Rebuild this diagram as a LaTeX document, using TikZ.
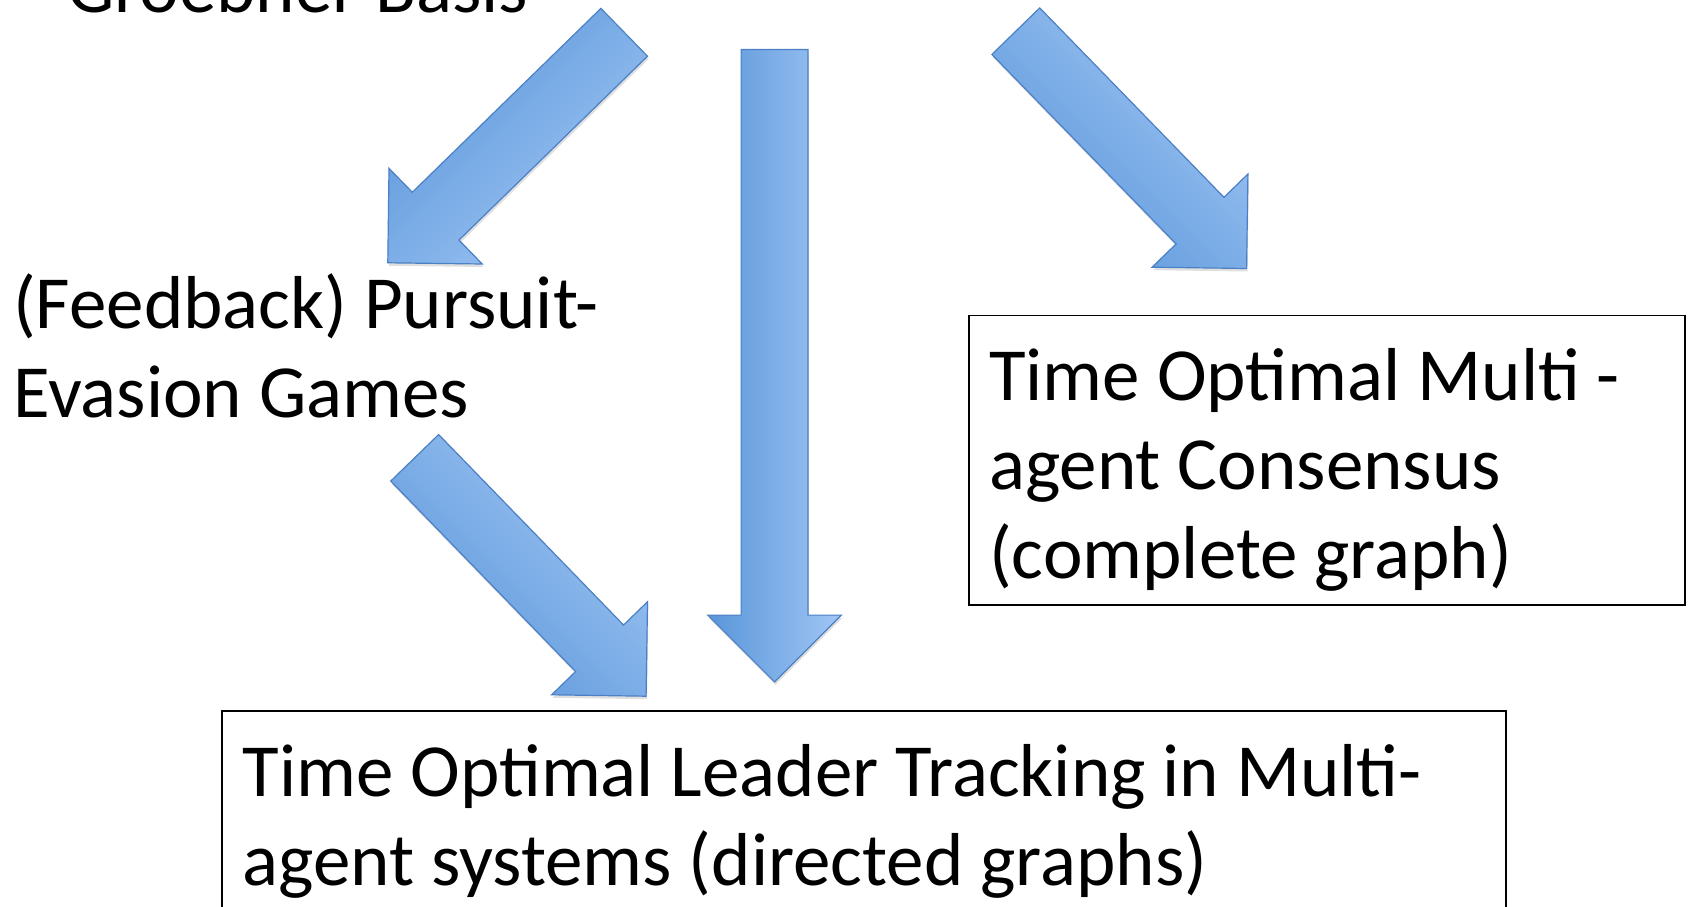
\documentclass[tikz,border=0pt]{standalone}
\usepackage{fontspec}
\setmainfont{Carlito}
\usepackage{tikz}
\usetikzlibrary{positioning,calc,shadows}
\definecolor{arrowdark}{RGB}{90,150,218}
\definecolor{arrowlight}{RGB}{160,198,244}
\definecolor{arrowedge}{RGB}{76,128,196}
\tikzstyle{textonly} = [draw=none, fill=none, inner sep=0pt, align=left, text=black, font=\fontsize{75}{89}\selectfont]
\tikzstyle{topicbox} = [rectangle, draw=black, line width=1.5pt, fill=none, inner sep=0pt]
\tikzstyle{fatarrow} = [draw=arrowedge, line width=1.2pt, top color=arrowdark, bottom color=arrowlight, drop shadow={opacity=0.25, shadow xshift=1pt, shadow yshift=-3pt}]
\newcommand{\shaftw}{33.4pt}
\newcommand{\headw}{66.8pt}
\newcommand{\headl}{66.8pt}
\newcommand{\blockarrow}[3]{%
  \coordinate (#1-base) at ($(#2)!\headl!(#1)$);
  \path[fatarrow, shading angle=#3]
    ($(#1)!\shaftw!90:(#2)$) -- ($(#1-base)!\shaftw!-90:(#1)$) -- ($(#1-base)!\headw!-90:(#1)$) -- (#2)
    -- ($(#1-base)!\headw!90:(#1)$) -- ($(#1-base)!\shaftw!90:(#1)$) -- ($(#1)!\shaftw!-90:(#2)$) -- cycle;}

\begin{document}
\begin{tikzpicture}[x=1pt, y=-1pt]
\useasboundingbox (0,0) rectangle (1689,907);

% topics =============================
\node[textonly, anchor=base west] (groebner) at (67,13) {Groebner Basis};
\node[textonly, anchor=base west] (pursuit) at (13,417) {(Feedback) Pursuit-\\Evasion Games};

\node[topicbox, anchor=north west, minimum width=716pt, minimum height=289.5pt] (consensus) at (968,314.5) {};
\node[textonly, anchor=base west] (consensustext) at (989,578.5) {Time Optimal Multi -\\agent Consensus\\(complete graph)};

\node[topicbox, anchor=north west, minimum width=1284pt, minimum height=260pt] (tracking) at (221,710) {};
\node[textonly, anchor=base west] (trackingtext) at (242.4,885.5) {Time Optimal Leader Tracking in Multi-\\agent systems (directed graphs)};

% arrow ends
\coordinate (groebnerleft) at (624.2,32.3);
\coordinate (pursuittip) at (387.8,262.8);
\coordinate (groebnermid) at (774.5,49.5);
\coordinate (trackingtip) at (774.5,681.9);
\coordinate (groebnerright) at (1015.8,31.2);
\coordinate (consensustip) at (1246.6,268.5);
\coordinate (pursuittail) at (414.7,457.8);
\coordinate (trackingleft) at (646.1,696.2);

% edges
\blockarrow{groebnerleft}{pursuittip}{45}
\blockarrow{groebnermid}{trackingtip}{90}
\blockarrow{groebnerright}{consensustip}{135}
\blockarrow{pursuittail}{trackingleft}{135}

\end{tikzpicture}
\end{document}
